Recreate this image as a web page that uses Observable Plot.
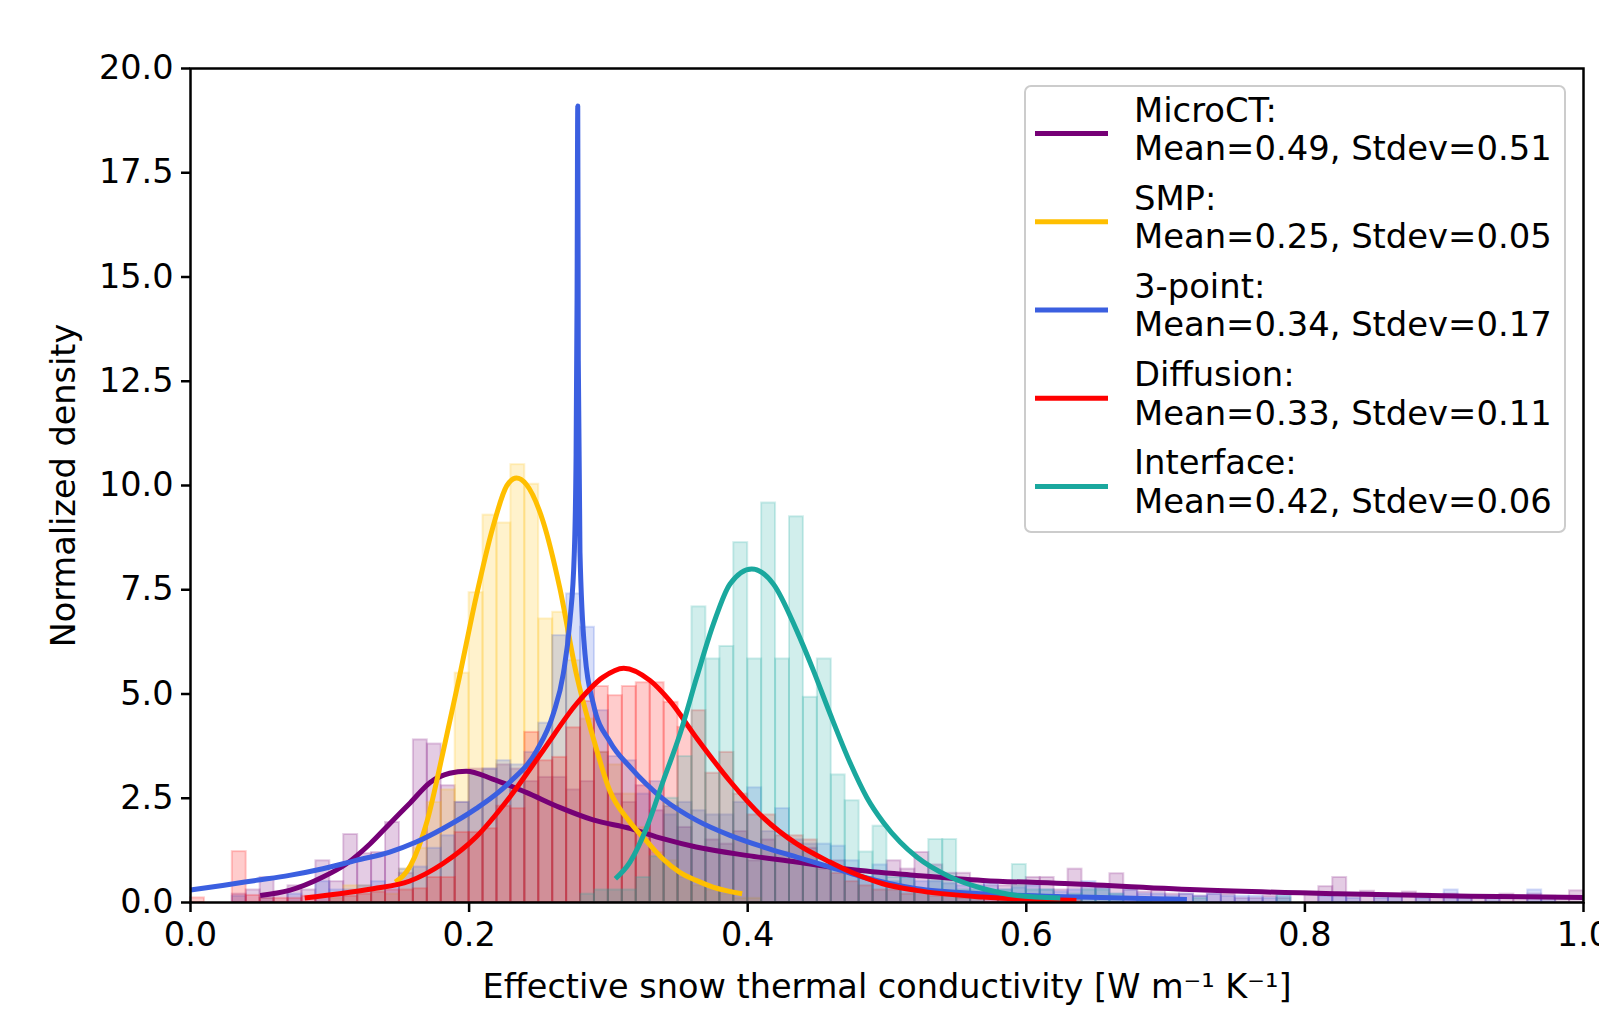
<!DOCTYPE html>
<html>
<head>
<meta charset="utf-8">
<script src="https://cdn.jsdelivr.net/npm/d3@7"></script>
<script src="https://cdn.jsdelivr.net/npm/@observablehq/plot@0.6"></script>
<style>
  html, body { margin: 0; padding: 0; background: #fff; overflow: hidden; }
  #wrap { position: relative; width: 1599px; height: 1009px; font-family: "DejaVu Sans", sans-serif; }
  #chart svg { display: block; }
  #legend { position: absolute; left: 1024px; top: 85px; width: 538px; height: 444px;
            border: 2px solid #cccccc; border-radius: 7px; background: rgba(255,255,255,0.8); }
  #legend .txt { position: absolute; left: 108px; font-size: 33.8px; line-height: 38.5px; color: #000; white-space: nowrap; }
  #legend svg { position: absolute; left: 0; top: 0; overflow: visible; }
</style>
</head>
<body>
<div id="wrap">
  <div id="chart"></div>
  <div id="legend"></div>
</div>
<script>
// ---------------- data ----------------
const seriesNames = ["MicroCT", "SMP", "3-point", "Diffusion", "Interface"];
const seriesColors = ["#760076", "#ffbf00", "#3b5fe0", "#ff0000", "#1aa89e"];
const seriesMeans = [0.49, 0.25, 0.34, 0.33, 0.42];
const seriesStdevs = [0.51, 0.05, 0.17, 0.11, 0.06];

const binWidth = 0.01;   // histogram bins: [i*0.01, (i+1)*0.01], i = 0..99
const xTicks = [0, 0.2, 0.4, 0.6, 0.8, 1.0];
const yTicks = [0, 2.5, 5, 7.5, 10, 12.5, 15, 17.5, 20];

// histogram heights per 0.01-wide bin (index 0..99)
const microctHist = [
  0, 0, 0, 0.2, 0.3, 0.6, 0.25, 0.4, 0.3, 1.0,
  0.5, 1.63, 1.17, 1.2, 1.92, 0.7, 3.9, 3.8, 2.8, 2.4,
  3.2, 3.2, 3.3, 3.2, 2.9, 3.0, 3.0, 2.7, 2.9, 3.6,
  2.6, 2.4, 2.8, 2.2, 2.3, 1.8, 1.3, 1.5, 1.4, 1.7,
  1.0, 1.5, 1.2, 1.4, 1.3, 0.8, 1.0, 0.7, 0.6, 0.7,
  1.0, 0.8, 1.2, 0.9, 0.7, 0.7, 0.5, 0.4, 0.4, 0.4,
  0.6, 0.6, 0.3, 0.8, 0.4, 0.35, 0.69, 0.3, 0.25, 0.3,
  0.2, 0.2, 0.15, 0.2, 0.2, 0.1, 0.1, 0.15, 0.1, 0,
  0.25, 0.38, 0.6, 0.2, 0.27, 0.2, 0.15, 0.25, 0.2, 0.15,
  0.2, 0.15, 0.15, 0.15, 0.2, 0.15, 0.2, 0.15, 0.1, 0.28
];
const smpHist = [
  0, 0, 0, 0, 0, 0, 0, 0, 0, 0,
  0.1, 0.4, 0.4, 0.3, 0.2, 0.8, 1.3, 2.4, 2.7, 5.5,
  7.43, 9.29, 9.1, 10.5, 10.03, 6.8, 6.96, 5.8, 4.4, 3.6,
  3.3, 2.6, 1.8, 1.2, 1.0, 0.6, 0.4, 0.3, 0.2, 0.1,
  0.1, 0, 0, 0, 0, 0, 0, 0, 0, 0,
  0, 0, 0, 0, 0, 0, 0, 0, 0, 0,
  0, 0, 0, 0, 0, 0, 0, 0, 0, 0,
  0, 0, 0, 0, 0, 0, 0, 0, 0, 0,
  0, 0, 0, 0, 0, 0, 0, 0, 0, 0,
  0, 0, 0, 0, 0, 0, 0, 0, 0, 0
];
const threePointHist = [
  0, 0, 0, 0.15, 0, 0.1, 0, 0.2, 0, 0.5,
  0.3, 0.3, 0.4, 0.5, 0.4, 0.8, 0.85, 1.3, 1.6, 2.4,
  3.1, 3.2, 3.4, 3.3, 3.6, 4.3, 6.4, 7.4, 6.6, 4.6,
  3.5, 3.4, 2.6, 2.9, 2.1, 2.4, 2.2, 2.1, 2.1, 2.4,
  2.75, 1.7, 2.25, 1.5, 1.4, 1.4, 1.35, 1.0, 0.6, 0.9,
  0.5, 0.6, 0.5, 0.5, 0.45, 0.4, 0.4, 0.45, 0.3, 0.35,
  0.4, 0.3, 0.25, 0.3, 0.5, 0.35, 0.2, 0.3, 0.2, 0.2,
  0.15, 0.2, 0.15, 0.2, 0.15, 0.15, 0.15, 0.1, 0.15, 0,
  0, 0.15, 0.2, 0.1, 0, 0.1, 0.15, 0, 0.1, 0,
  0.3, 0.1, 0, 0.1, 0, 0, 0.3, 0.1, 0, 0
];
const diffusionHist = [
  0.11, 0, 0, 1.22, 0.17, 0.1, 0.1, 0.1, 0.15, 0.15,
  0.2, 0.15, 0.2, 0.25, 0.3, 0.3, 0.33, 0.6, 0.6, 1.68,
  1.68, 1.77, 2.31, 2.25, 4.08, 3.4, 3.48, 4.19, 4.82, 5.18,
  4.96, 5.18, 5.27, 5.27, 4.8, 4.2, 4.6, 3.1, 3.6, 2.6,
  2.1, 2.1, 1.6, 1.6, 1.5, 0.9, 0.7, 0.5, 0.4, 0.3,
  0.3, 0.2, 0.25, 0.15, 0.15, 0.1, 0.1, 0.1, 0.05, 0.08,
  0.05, 0.05, 0.05, 0.05, 0, 0, 0, 0, 0, 0,
  0, 0, 0, 0, 0, 0, 0, 0, 0, 0,
  0, 0, 0, 0, 0, 0, 0, 0, 0, 0,
  0, 0, 0, 0, 0, 0, 0, 0, 0, 0
];
const interfaceHist = [
  0, 0, 0, 0, 0, 0, 0, 0, 0, 0,
  0, 0, 0, 0, 0, 0, 0, 0, 0, 0,
  0, 0, 0, 0, 0, 0, 0, 0, 0.2, 0.3,
  0.3, 0.3, 0.6, 1.1, 2.5, 3.5, 7.09, 5.84, 6.14, 8.63,
  5.84, 9.58, 5.84, 9.25, 4.92, 5.84, 3.06, 2.44, 1.21, 1.83,
  0.6, 0.6, 0.3, 1.51, 1.51, 0.3, 0.3, 0, 0.3, 0.91,
  0.3, 0.3, 0, 0.2, 0.3, 0.3, 0.2, 0, 0.1, 0,
  0.1, 0, 0.1, 0, 0, 0, 0, 0, 0.2, 0,
  0, 0, 0, 0, 0, 0, 0, 0, 0, 0,
  0, 0, 0, 0, 0, 0, 0, 0, 0, 0
];

// fitted curves
const microctCurveX = [0.050, 0.071, 0.095, 0.112, 0.129, 0.143, 0.158, 0.172, 0.186, 0.198, 0.217, 0.241, 0.265, 0.289, 0.316, 0.339, 0.363, 0.399, 0.435, 0.474, 0.521, 0.569, 0.632, 0.727, 0.823, 0.919, 1.0];
const microctCurveY = [0.17, 0.29, 0.61, 0.93, 1.41, 1.89, 2.40, 2.88, 3.10, 3.15, 2.96, 2.64, 2.28, 1.98, 1.77, 1.53, 1.33, 1.13, 0.97, 0.79, 0.65, 0.53, 0.45, 0.30, 0.21, 0.15, 0.12];

const smpCurveX = [0.147, 0.158, 0.170, 0.181, 0.193, 0.205, 0.217, 0.227, 0.234, 0.241, 0.253, 0.265, 0.277, 0.289, 0.301, 0.315, 0.328, 0.339, 0.351, 0.363, 0.375, 0.396];
const smpCurveY = [0.49, 0.89, 1.97, 3.56, 5.40, 7.32, 8.99, 9.99, 10.18, 10.03, 9.15, 7.56, 5.48, 3.96, 2.68, 1.95, 1.45, 1.05, 0.73, 0.53, 0.37, 0.21];

const threePointCurveX = [0.0, 0.023, 0.047, 0.071, 0.095, 0.119, 0.143, 0.162, 0.181, 0.205, 0.229, 0.2485, 0.2604, 0.2676, 0.2724, 0.2755, 0.2768, 0.2775, 0.2780, 0.2784, 0.2796, 0.2832, 0.2892, 0.3012, 0.3155, 0.3394, 0.3634, 0.3873, 0.4113, 0.4352, 0.4592, 0.4807, 0.5214, 0.569, 0.6387, 0.7153];
const threePointCurveY = [0.30, 0.41, 0.53, 0.65, 0.81, 1.01, 1.21, 1.45, 1.77, 2.25, 2.88, 3.64, 4.52, 5.48, 6.76, 8.36, 10.75, 14.5, 19.1, 13.0, 8.4, 5.96, 4.76, 3.85, 3.25, 2.48, 1.97, 1.61, 1.33, 1.09, 0.85, 0.63, 0.33, 0.21, 0.13, 0.07];

const diffusionCurveX = [0.082, 0.107, 0.131, 0.157, 0.181, 0.205, 0.229, 0.253, 0.277, 0.296, 0.311, 0.330, 0.344, 0.363, 0.387, 0.411, 0.435, 0.459, 0.474, 0.497, 0.521, 0.569, 0.636];
const diffusionCurveY = [0.11, 0.21, 0.33, 0.51, 0.93, 1.57, 2.52, 3.64, 4.76, 5.40, 5.62, 5.32, 4.84, 3.96, 2.92, 2.04, 1.41, 0.97, 0.73, 0.45, 0.29, 0.13, 0.05];

const interfaceCurveX = [0.305, 0.3155, 0.3275, 0.3394, 0.3514, 0.3634, 0.3754, 0.3873, 0.4029, 0.4184, 0.4352, 0.4472, 0.4592, 0.4735, 0.4855, 0.4974, 0.5094, 0.5214, 0.5454, 0.5693, 0.5933, 0.6244];
const interfaceCurveY = [0.57, 0.97, 1.80, 2.92, 4.04, 5.40, 6.68, 7.64, 8.0, 7.64, 6.52, 5.56, 4.52, 3.35, 2.52, 1.92, 1.45, 1.09, 0.61, 0.33, 0.17, 0.11];

const xLabel = "Effective snow thermal conductivity [W m\u207B\u00B9 K\u207B\u00B9]";
const yLabel = "Normalized density";

// ---------------- build tables ----------------
const hists = [microctHist, smpHist, threePointHist, diffusionHist, interfaceHist];
const curvesX = [microctCurveX, smpCurveX, threePointCurveX, diffusionCurveX, interfaceCurveX];
const curvesY = [microctCurveY, smpCurveY, threePointCurveY, diffusionCurveY, interfaceCurveY];

const histMarks = [];
const lineMarks = [];
seriesNames.forEach((name, s) => {
  const rows = [];
  hists[s].forEach((v, i) => {
    if (v > 0) rows.push({x1: i * binWidth, x2: (i + 1) * binWidth, y: v});
  });
  histMarks.push(Plot.rectY(rows, {
    x1: "x1", x2: "x2", y: "y",
    fill: seriesColors[s], fillOpacity: 0.2,
    stroke: seriesColors[s], strokeOpacity: 0.2, strokeWidth: 2
  }));
  const pts = curvesX[s].map((x, i) => ({x, y: curvesY[s][i]}));
  lineMarks.push(Plot.line(pts, {
    x: "x", y: "y", stroke: seriesColors[s], strokeWidth: 5,
    curve: "monotone-x", strokeLinejoin: "round", strokeLinecap: "butt", clip: true
  }));
});

const chart = Plot.plot({
  width: 1599,
  height: 1009,
  marginLeft: 190,
  marginRight: 16,
  marginTop: 68,
  marginBottom: 107,
  style: {fontFamily: "DejaVu Sans", fontSize: "33.5px", color: "black", background: "white", overflow: "visible"},
  x: {domain: [0, 1]},
  y: {domain: [0, 20]},
  marks: [
    ...histMarks,
    ...lineMarks,
    Plot.frame({stroke: "black", strokeWidth: 2.5}),
    Plot.axisX({ticks: xTicks, tickFormat: ".1f", tickSize: 10, tickPadding: 10, strokeWidth: 2.5, label: null}),
    Plot.axisY({ticks: yTicks, tickFormat: ".1f", tickSize: 9, tickPadding: 8, strokeWidth: 2.5, label: null}),
    Plot.text([xLabel], {frameAnchor: "bottom", textAnchor: "middle", lineAnchor: "bottom", dy: 95, text: d => d, fill: "black"}),
    Plot.text([yLabel], {frameAnchor: "left", textAnchor: "middle", lineAnchor: "bottom", rotate: -90, dx: -116, text: d => d, fill: "black"})
  ]
});
document.getElementById("chart").appendChild(chart);

// ---------------- legend ----------------
const legend = document.getElementById("legend");
const ns = "http://www.w3.org/2000/svg";
const lsvg = document.createElementNS(ns, "svg");
lsvg.setAttribute("width", "538");
lsvg.setAttribute("height", "444");
legend.appendChild(lsvg);
seriesNames.forEach((name, s) => {
  const top = 4.5 + 88.2 * s;
  const div = document.createElement("div");
  div.className = "txt";
  div.style.top = top + "px";
  div.innerHTML = name + ":<br>Mean=" + seriesMeans[s].toFixed(2) + ", Stdev=" + seriesStdevs[s].toFixed(2);
  legend.appendChild(div);
  const ln = document.createElementNS(ns, "line");
  const yy = 46.6 + 88.2 * s;
  ln.setAttribute("x1", 9); ln.setAttribute("x2", 82);
  ln.setAttribute("y1", yy); ln.setAttribute("y2", yy);
  ln.setAttribute("stroke", seriesColors[s]);
  ln.setAttribute("stroke-width", 5);
  lsvg.appendChild(ln);
});
</script>
</body>
</html>
